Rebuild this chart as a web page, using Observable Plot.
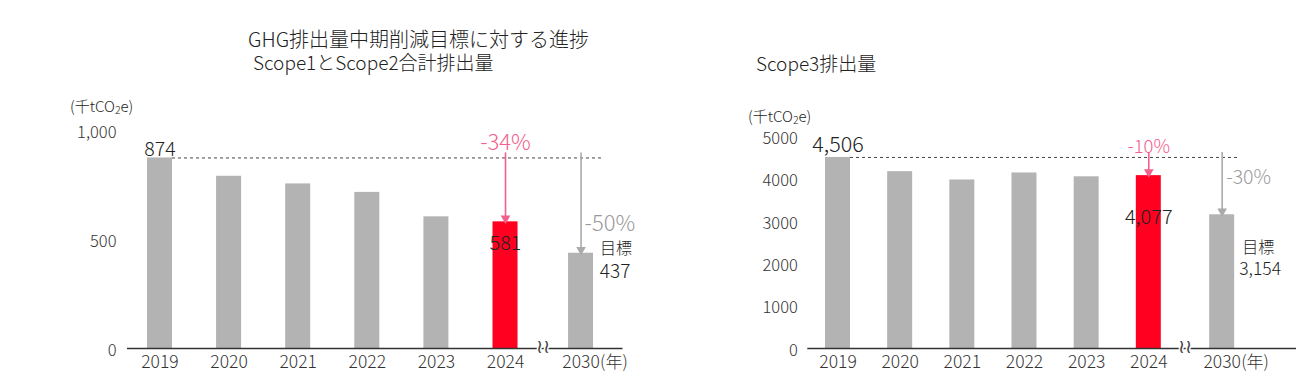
<!DOCTYPE html>
<html><head><meta charset="utf-8">
<script src="https://cdn.jsdelivr.net/npm/d3@7"></script>
<script src="https://cdn.jsdelivr.net/npm/@observablehq/plot@0.6"></script>
<style>
body{margin:0;background:#fff;}
#wrap{position:relative;width:1296px;height:374px;overflow:hidden;font-family:'Noto Sans CJK JP','Noto Sans',sans-serif;font-weight:300;color:#222;}
.t{position:absolute;white-space:nowrap;line-height:1;}
#wrap svg{position:absolute;top:0;}
sub{font-size:0.7em;vertical-align:baseline;position:relative;top:0.15em;}
</style></head><body>
<div id="wrap">
  <div class="t" style="left:248px;top:29px;font-size:20px;">GHG排出量中期削減目標に対する進捗</div>
  <div class="t" style="left:253px;top:52px;font-size:19px;">Scope1とScope2合計排出量</div>
  <div class="t" style="left:756px;top:53px;font-size:19px;">Scope3排出量</div>
  <div class="t" style="left:70px;top:98px;font-size:15px;">(千tCO<sub>2</sub>e)</div>
  <div class="t" style="left:748px;top:108px;font-size:15px;">(千tCO<sub>2</sub>e)</div>
</div>
<script>
// ---- data ----
const years = ["2019", "2020", "2021", "2022", "2023", "2024", "2030"];
const scope12 = [874, 790, 755, 716, 604, 581, 437];
const scope3 = [4506, 4170, 3975, 4140, 4050, 4077, 3154];
const leftTicks = [0, 500, 1000];
const leftTickLabels = ["0", "500", "1,000"];
const rightTicks = [0, 1000, 2000, 3000, 4000, 5000];
const rightTickLabels = ["0", "1000", "2000", "3000", "4000", "5000"];
const leftValueLabels = {base: "874", current: "581", target: "437", currentPct: "-34%", targetPct: "-50%"};
const rightValueLabels = {base: "4,506", current: "4,077", target: "3,154", currentPct: "-10%", targetPct: "-30%"};
const targetWord = "目標";
const yearUnit = "(年)";
const highlightYear = "2024";

const GRAY = "#b3b3b3", RED = "#ff0020", PINK = "#f3608d", ARROW_GRAY = "#aaaaaa", PCT_GRAY = "#9a9a9a", INK = "#222";
const FONT = "'Noto Sans CJK JP','Noto Sans',sans-serif";

function chart(values, ticks, tickLabels, labels, c) {
  const n = years.length;
  const pos = i => (i < n - 1 ? i : i + c.gap);
  const rows = years.map((y, i) => ({year: y, value: values[i], pos: pos(i)}));
  const first = rows[0], cur = rows[years.indexOf(highlightYear)], last = rows[n - 1];
  const breakPos = (pos(n - 2) + pos(n - 1)) / 2;
  return Plot.plot({
    width: 648, height: 374,
    marginTop: c.marginTop, marginBottom: 26, marginLeft: c.marginLeft, marginRight: c.marginRight,
    x: {type: "linear", domain: c.domainX, axis: null},
    y: {domain: [0, ticks[ticks.length - 1]], axis: null},
    color: {type: "identity"},
    style: {fontFamily: FONT, fontWeight: 300, background: "transparent", overflow: "visible"},
    marks: [
      Plot.rectY(rows, {x1: d => d.pos - c.half, x2: d => d.pos + c.half, y1: 0, y2: "value",
        fill: d => (d.year === highlightYear ? RED : GRAY)}),
      Plot.ruleY([first.value], {x1: first.pos + c.half, x2: last.pos + c.dashExt, stroke: "#444", strokeWidth: 1, strokeDasharray: "3,3"}),
      Plot.ruleY([0], {stroke: "#333", strokeWidth: 1.3}),
      Plot.text([breakPos], {x: d => d, y: 0, text: () => "≀≀", fontFamily: "DejaVu Sans", fontSize: 19, fill: "#444", stroke: "white", strokeWidth: 3, paintOrder: "stroke", dy: -2}),
      // arrows
      Plot.ruleX([cur], {x: "pos", y1: first.value, y2: "value", stroke: PINK, strokeWidth: 1.6, dy: -5}),
      Plot.dot([cur], {x: "pos", y: "value", symbol: "triangle", r: 3.6, fill: PINK, rotate: 180, dy: -3.5}),
      Plot.ruleX([last], {x: "pos", y1: first.value, y2: "value", stroke: ARROW_GRAY, strokeWidth: 1.6, dy: -5}),
      Plot.dot([last], {x: "pos", y: "value", symbol: "triangle", r: 3.6, fill: ARROW_GRAY, rotate: 180, dy: -3.5}),
      // y axis labels
      Plot.axisY(ticks, {label: null, tickSize: 0, tickPadding: c.tickPad, tickFormat: d => tickLabels[ticks.indexOf(d)], fontSize: 16.5, fill: "#333", dy: 2}),
      // x labels
      Plot.text(rows, {x: "pos", y: 0, text: "year", dy: 14, fontSize: 17.5, fill: "#333"}),
      Plot.text([last], {x: "pos", y: 0, text: () => yearUnit, dy: 14, dx: 19, textAnchor: "start", fontSize: 17, fill: "#333"}),
      // value labels
      Plot.text([first], {x: "pos", y: "value", text: () => labels.base, dy: c.baseDy, fontSize: c.baseSize, fill: INK}),
      Plot.text([cur], {x: "pos", y: "value", text: () => labels.current, dy: c.curDy, fontSize: c.curSize, fill: INK}),
      Plot.text([last], {x: "pos", y: "value", text: () => targetWord, dx: c.wordDx, dy: c.wordDy, fontSize: 16, fill: INK}),
      Plot.text([last], {x: "pos", y: "value", text: () => labels.target, dx: c.tgtDx, dy: c.tgtDy, fontSize: c.tgtSize, fill: INK}),
      Plot.text([cur], {x: "pos", y: first.value, text: () => labels.currentPct, dy: c.curPctDy, fontSize: c.curPctSize, fill: PINK}),
      Plot.text([last], {x: "pos", y: "value", text: () => labels.targetPct, dx: c.tgtPctDx, dy: c.tgtPctDy, textAnchor: "start", fontSize: c.tgtPctSize, fill: PCT_GRAY})
    ]
  });
}

const left = chart(scope12, leftTicks, leftTickLabels, leftValueLabels, {
  marginTop: 130, marginLeft: 127, marginRight: 25.5, domainX: [-0.47, 6.70], gap: 0.093, half: 0.181, dashExt: 0.34, tickPad: 11,
  baseDy: -8, baseSize: 19.5, curDy: 22, curSize: 19.5, wordDx: 35, wordDy: -4, tgtDx: 34, tgtDy: 19, tgtSize: 19,
  curPctDy: -15, curPctSize: 22, tgtPctDx: 3.5, tgtPctDy: -29, tgtPctSize: 22
});
const right = chart(scope3, rightTicks, rightTickLabels, rightValueLabels, {
  marginTop: 136, marginLeft: 159.3, marginRight: 0, domainX: [-0.486, 7.376], gap: 0.18, half: 0.201, dashExt: 0.26, tickPad: 10,
  baseDy: -12, baseSize: 21.5, curDy: 42, curSize: 20, wordDx: 36, wordDy: 33, tgtDx: 38, tgtDy: 55, tgtSize: 17.5,
  curPctDy: -10, curPctSize: 18.5, tgtPctDx: 4, tgtPctDy: -37, tgtPctSize: 19.5
});
left.style.left = "0px";
right.style.left = "648px";
document.getElementById("wrap").append(left, right);
</script>
</body></html>
